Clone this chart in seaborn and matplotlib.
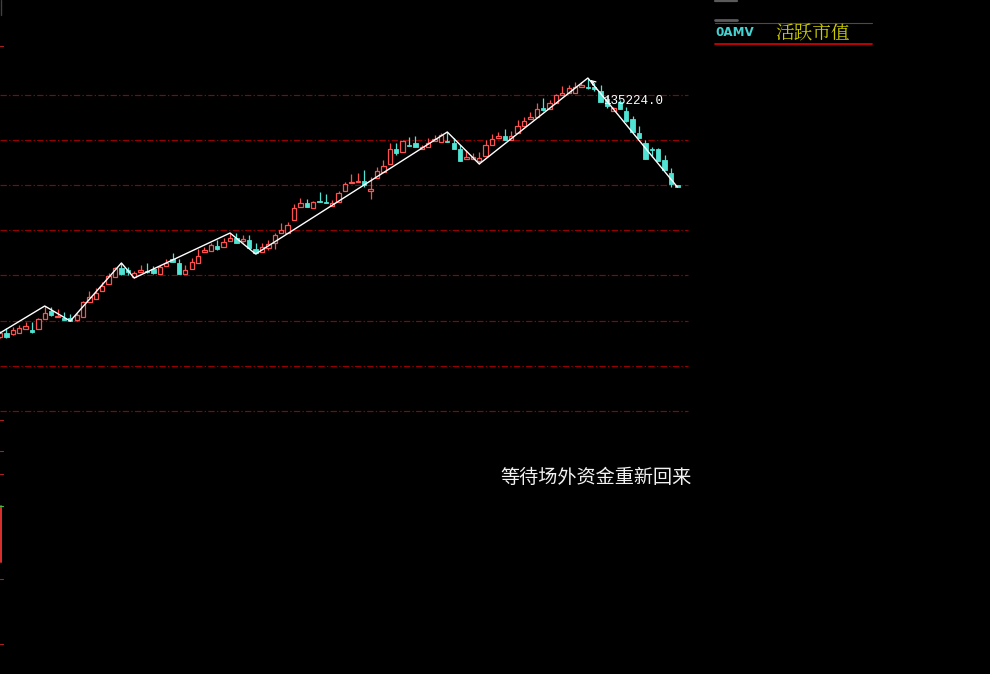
import matplotlib
matplotlib.use("Agg")
import matplotlib.pyplot as plt
import seaborn as sns
import pandas as pd
import numpy as np

# ---- data (index level units) ----
opens = [63, 67, 66, 67, 71, 70, 71, 81, 89, 83, 82, 82, 80, 83, 98, 101, 109, 116, 123, 132,
         130, 123, 128, 129, 131, 126, 134, 141, 137, 126, 131, 137, 148, 149, 154, 153, 159, 162, 159, 160,
         151, 148, 152, 157, 167, 167, 180, 193, 197, 192, 199, 198, 194, 198, 209, 217, 218, 219, 209, 222,
         228, 236, 251, 248, 255, 257, 251, 253, 259, 258, 259, 257, 251, 241, 241, 239, 244, 255, 262, 264,
         260, 267, 274, 281, 283, 292, 291, 297, 305, 307, 307, 313, 313, 313, 309, 301, 289, 298, 289, 281,
         267, 257, 251, 251, 240, 227, 215]
closes = [67, 63, 70, 72, 74, 68, 81, 87, 85, 84, 80, 79, 85, 98, 103, 107, 114, 124, 132, 126,
          128, 127, 130, 128, 127, 133, 137, 138, 126, 130, 138, 144, 150, 155, 151, 158, 162, 157, 161, 152,
          147, 153, 156, 165, 170, 175, 192, 197, 193, 198, 198, 197, 197, 207, 216, 218, 219, 215, 211, 229,
          234, 251, 247, 259, 254, 253, 253, 257, 261, 265, 258, 251, 239, 243, 243, 242, 255, 261, 264, 260,
          264, 274, 279, 283, 291, 290, 297, 305, 307, 312, 313, 315, 312, 311, 298, 294, 292, 291, 279, 268,
          262, 241, 250, 239, 230, 216, 213]
highs = [69, 72, 73, 75, 78, 78, 82, 94, 93, 91, 88, 86, 87, 99, 109, 112, 118, 127, 133, 137,
         133, 129, 135, 137, 134, 135, 141, 147, 141, 135, 142, 151, 153, 157, 160, 162, 167, 167, 165, 165,
         157, 157, 160, 167, 177, 178, 196, 202, 201, 199, 208, 206, 200, 209, 218, 226, 227, 230, 223, 233,
         240, 257, 257, 260, 263, 264, 255, 262, 265, 267, 268, 262, 255, 250, 247, 248, 260, 266, 268, 271,
         269, 280, 283, 288, 297, 302, 300, 306, 314, 315, 318, 318, 322, 317, 315, 304, 293, 300, 293, 284,
         274, 260, 253, 252, 245, 232, 215]
lows = [62, 62, 65, 67, 71, 67, 71, 81, 84, 83, 80, 79, 79, 83, 98, 101, 109, 116, 123, 125,
        125, 122, 128, 127, 126, 126, 134, 138, 126, 126, 131, 137, 148, 149, 150, 153, 159, 157, 158, 152,
        146, 148, 150, 151, 167, 167, 180, 193, 193, 192, 198, 197, 194, 198, 209, 217, 218, 213, 201, 222,
        228, 236, 245, 248, 254, 253, 251, 253, 259, 258, 258, 251, 239, 241, 241, 236, 244, 255, 262, 260,
        260, 267, 274, 281, 283, 289, 291, 297, 305, 307, 307, 313, 311, 309, 298, 292, 289, 291, 278, 268,
        262, 241, 243, 239, 230, 213, 213]

zz_index = [0, 7, 11, 19, 21, 36, 40, 70, 75, 92, 106]
zz_value = [67, 94, 79, 137, 122, 167, 146, 268, 236, 322, 213]

grid_levels = [305, 260, 215, 170, 125, 79, 34, -11]

peak_label = "135224.0"
legend_code = "0AMV"
legend_name = "活跃市值"
note_text = "等待场外资金重新回来"

UP = "#FF5050"
DOWN = "#4FE3D4"

sns.set_theme(style="dark", rc={"axes.facecolor": "black", "figure.facecolor": "black"})
plt.rcParams["font.family"] = ["Noto Sans CJK SC", "DejaVu Sans"]
plt.rcParams["lines.scale_dashes"] = False

W, H = 990, 674
fig = plt.figure(figsize=(W / 100, H / 100), dpi=100)
ax = fig.add_axes([0, 0, 1, 1])
ax.set_facecolor("black")

# grid lines
gl_end = 688 / 6.39
ax.hlines(grid_levels, xmin=0, xmax=gl_end, colors="#960000",
          linestyles=[(0, (4.6, 1.6, 1.0, 1.6))], linewidth=0.85, zorder=1)

df = pd.DataFrame({"o": opens, "c": closes, "h": highs, "l": lows})
df["i"] = np.arange(len(df))
df["up"] = df["c"] >= df["o"]

for _, r in df.iterrows():
    col = UP if r["up"] else DOWN
    ax.vlines(r["i"], r["l"], r["h"], colors=col, linewidth=0.9, zorder=2)
    lo = min(r["o"], r["c"])
    ht = max(abs(r["c"] - r["o"]), 0.8)
    if r["up"]:
        ax.bar(r["i"], ht, bottom=lo, width=0.68, facecolor="black",
               edgecolor=col, linewidth=0.9, zorder=3)
    else:
        ax.bar(r["i"], ht, bottom=lo, width=0.68, facecolor=col,
               edgecolor=col, linewidth=0.6, zorder=3)

zz = pd.DataFrame({"i": zz_index, "v": zz_value})
sns.lineplot(data=zz, x="i", y="v", color="white", linewidth=1.0, ax=ax,
             zorder=5, legend=False)
ax.set_xlim(0, W / 6.39)
ax.set_ylim(400 - H, 400)
ax.axis("off")

# peak arrow and label
pk = zz_value[zz_index.index(92)]
ax.annotate("", xy=(92, pk), xytext=(93.3, pk - 7),
            arrowprops=dict(arrowstyle="->", color="white", lw=0.9,
                            mutation_scale=8), zorder=6)
ax.text(94.4, pk - 23, peak_label, color="white", fontsize=9.0,
        family=["Liberation Mono", "DejaVu Sans Mono"], va="center", ha="left", zorder=6)

def fx(px):
    return px / W
def fy(py):
    return 1 - py / H

fig.text(fx(500), fy(477), note_text, color="#F2F2F2", fontsize=13.8,
         family=["Noto Sans CJK SC", "DejaVu Sans"], va="center", ha="left")

# legend block at top right
fig.add_artist(plt.Line2D([fx(715), fx(737)], [fy(1), fy(1)], color="#5a5a5a", lw=1.6))
fig.add_artist(plt.Line2D([fx(715), fx(737)], [fy(20), fy(20)], color="#5a5a5a", lw=2.0))
fig.add_artist(plt.Line2D([fx(715), fx(872)], [fy(22.5), fy(22.5)], color="#4a4a4a", lw=0.8))
fig.add_artist(plt.Line2D([fx(715), fx(872)], [fy(44), fy(44)], color="#E00000", lw=1.2))
fig.text(fx(715), fy(33), legend_code, color="#45D2D2", fontsize=8.6, fontweight="bold",
         family=["DejaVu Sans"], va="center", ha="left")
fig.text(fx(775), fy(34), legend_name, color="#CCCC00", fontsize=13.4,
         family=["Noto Serif CJK SC", "Noto Sans CJK SC", "DejaVu Sans"], va="center", ha="left")

# left edge axis remnants
fig.add_artist(plt.Line2D([fx(1), fx(1)], [fy(506), fy(562)], color="#E03030", lw=1.4))
for yy in [46, 420, 451, 474, 579, 644]:
    fig.add_artist(plt.Line2D([fx(0), fx(3)], [fy(yy), fy(yy)], color="#B02020", lw=0.8))
fig.add_artist(plt.Line2D([fx(0), fx(3)], [fy(506), fy(506)], color="#40C040", lw=0.8))
fig.add_artist(plt.Line2D([fx(0.5), fx(0.5)], [fy(0), fy(15)], color="#404040", lw=1.0))

fig.savefig("out.png", dpi=100, facecolor="black")
